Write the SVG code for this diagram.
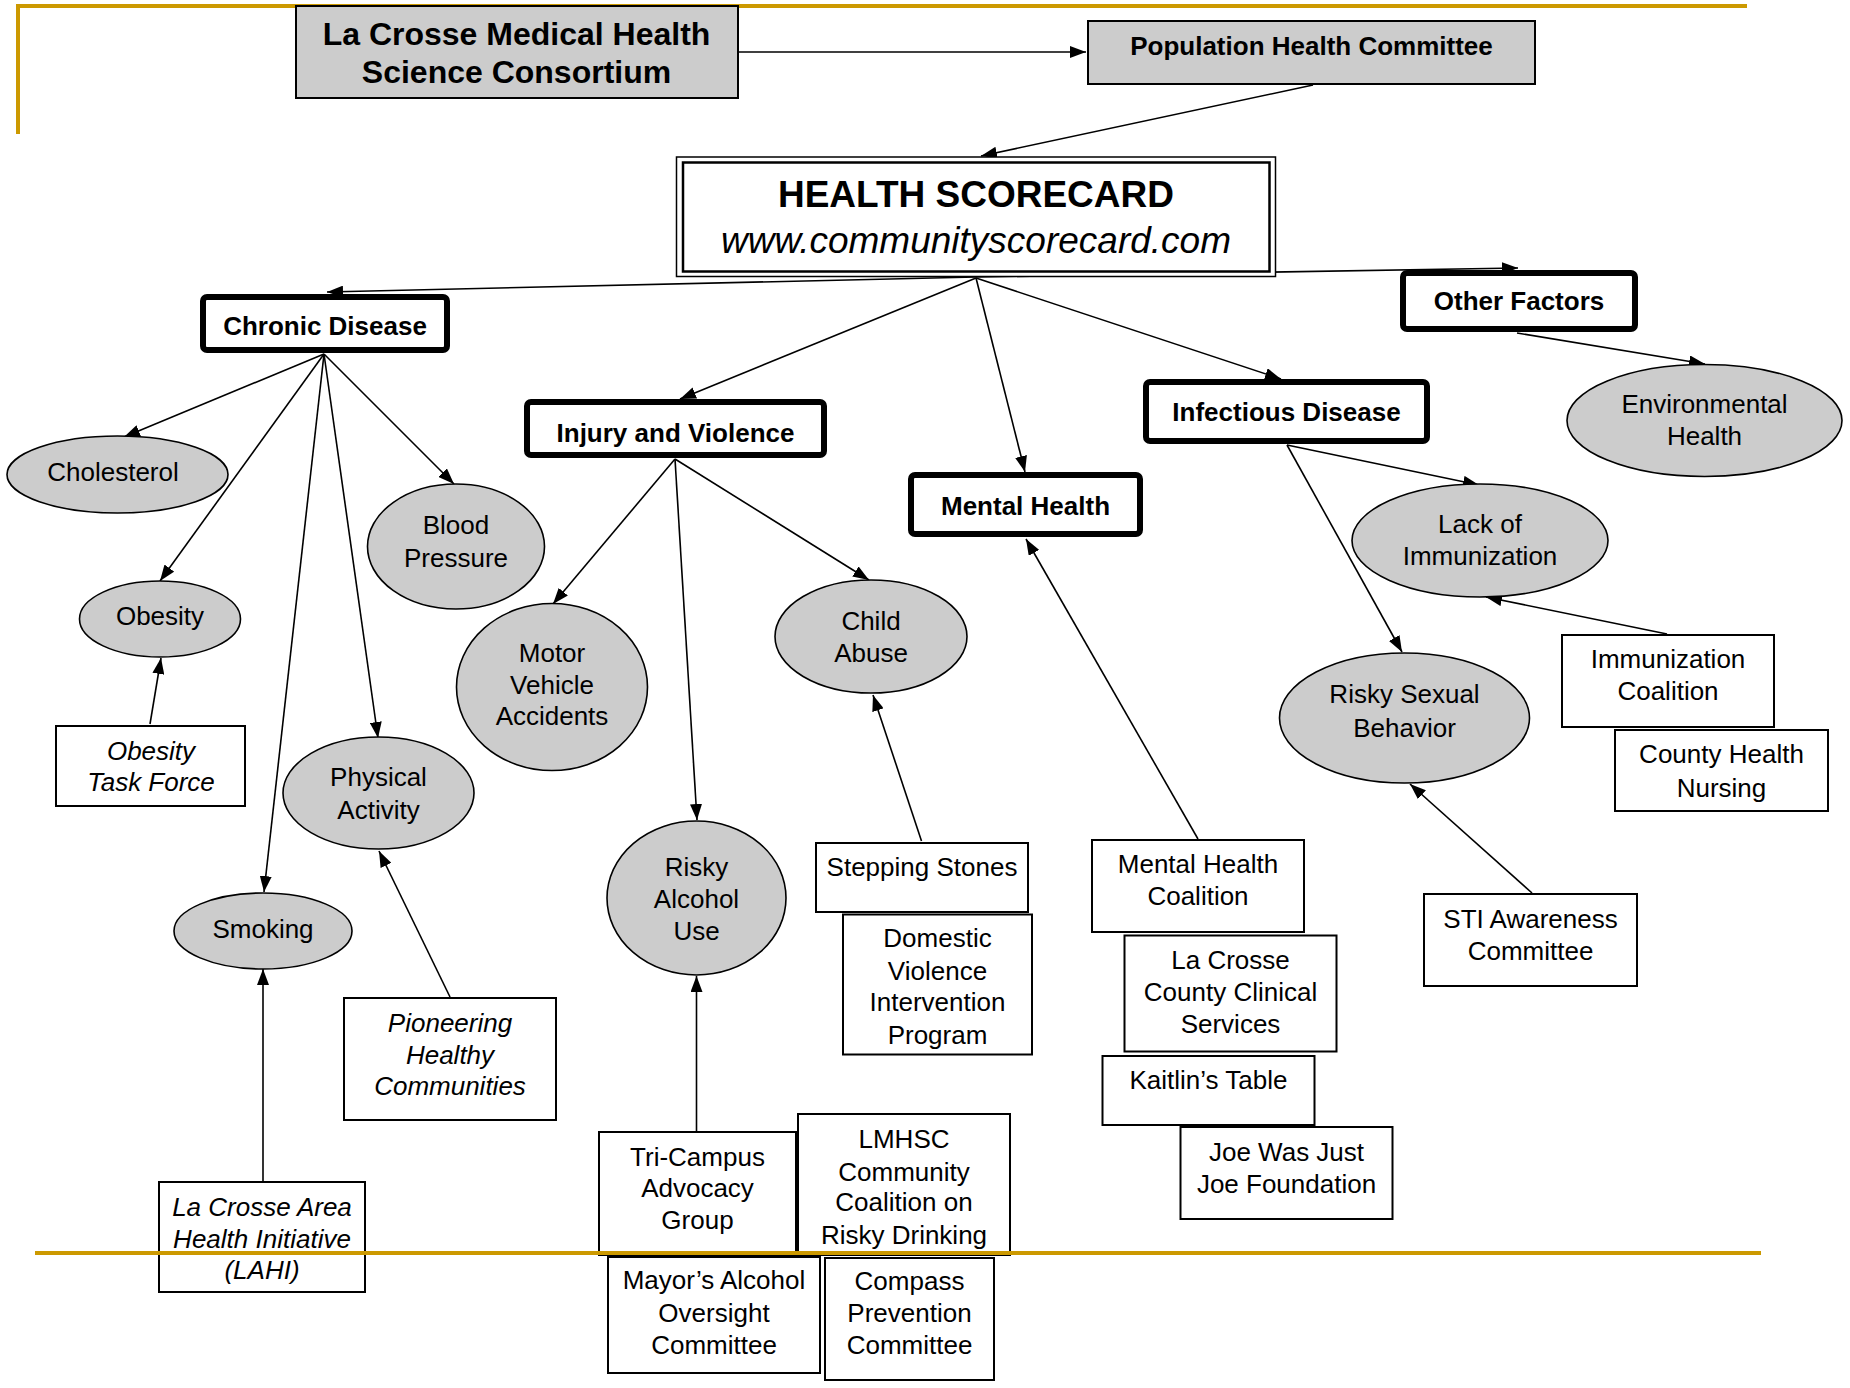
<svg xmlns="http://www.w3.org/2000/svg" width="1850" height="1388" viewBox="0 0 1850 1388">
<style>
text{font-family:"Liberation Sans",Arial,sans-serif;font-size:26px;fill:#000;text-anchor:middle}
.b{font-weight:bold}
.i{font-style:italic}
.cat{fill:#fff;stroke:#000;stroke-width:6}
.ell{fill:#cccccc;stroke:#000;stroke-width:1.6}
.box{fill:#fff;stroke:#000;stroke-width:2}
.gray{fill:#cccccc;stroke:#000;stroke-width:2}
.gold{fill:none;stroke:#CC9900;stroke-width:4}
#connectors line{stroke:#000;stroke-width:1.6;marker-end:url(#arr)}
</style>
<defs>
<marker id="arr" viewBox="0 0 16 12" refX="16" refY="6" markerWidth="16" markerHeight="12" orient="auto" markerUnits="userSpaceOnUse">
<path d="M0,0 L16,6 L0,12 z" fill="#000"/>
</marker>
</defs>
<rect width="1850" height="1388" fill="#fff"/>
<path class="gold" d="M18,134 V6 H1747"/>

<g id="connectors">
<line x1="739" y1="52" x2="1086" y2="52"/>
<line x1="1313" y1="85" x2="981" y2="156"/>
<line x1="976" y1="277" x2="327" y2="292"/>
<line x1="976" y1="277" x2="1518" y2="268"/>
<line x1="976" y1="278" x2="680" y2="399"/>
<line x1="976" y1="278" x2="1025" y2="472"/>
<line x1="976" y1="278" x2="1281" y2="379"/>
<line x1="1517" y1="333" x2="1705" y2="364"/>
<line x1="1287" y1="445" x2="1479" y2="485"/>
<line x1="1287" y1="445" x2="1402" y2="652"/>
<line x1="1667" y1="634" x2="1486" y2="597"/>
<line x1="1532" y1="893" x2="1410" y2="784"/>
<line x1="1198" y1="839" x2="1026" y2="539"/>
<line x1="324" y1="354" x2="124" y2="437"/>
<line x1="324" y1="354" x2="160" y2="581"/>
<line x1="324" y1="354" x2="264" y2="892"/>
<line x1="324" y1="354" x2="378" y2="738"/>
<line x1="324" y1="354" x2="454" y2="484"/>
<line x1="150" y1="724" x2="161" y2="658"/>
<line x1="263" y1="1181" x2="263" y2="969"/>
<line x1="450" y1="997" x2="379" y2="851"/>
<line x1="675" y1="459" x2="553" y2="604"/>
<line x1="675" y1="459" x2="697" y2="820"/>
<line x1="675" y1="459" x2="869" y2="580"/>
<line x1="696.5" y1="1131" x2="696.5" y2="976"/>
<line x1="921.5" y1="841" x2="873" y2="695"/>
</g>

<g id="consortium">
<rect class="gray" x="296" y="6" width="442" height="92"/>
<text class="b" x="516.5" y="44.5" style="font-size:32px">La Crosse Medical Health</text>
<text class="b" x="516.5" y="83" style="font-size:32px">Science Consortium</text>
</g>
<g id="population">
<rect class="gray" x="1088" y="21" width="447" height="63"/>
<text class="b" x="1311.5" y="55">Population Health Committee</text>
</g>
<g id="scorecard">
<rect x="676.5" y="157" width="599" height="119.5" fill="#fff" stroke="#000" stroke-width="1.5"/>
<rect x="683" y="162.5" width="586.5" height="109" fill="none" stroke="#000" stroke-width="2.5"/>
<text class="b" x="976" y="207" style="font-size:37px">HEALTH SCORECARD</text>
<text class="i" x="976" y="253" style="font-size:37px">www.communityscorecard.com</text>
</g>

<g id="chronic">
<rect class="cat" x="203" y="297" width="244" height="53" rx="4"/>
<text class="b" x="325" y="335">Chronic Disease</text>
</g>
<g id="injury">
<rect class="cat" x="527" y="402" width="297" height="53" rx="4"/>
<text class="b" x="675.5" y="442">Injury and Violence</text>
</g>
<g id="mental">
<rect class="cat" x="911" y="475" width="229" height="59" rx="4"/>
<text class="b" x="1025.5" y="515">Mental Health</text>
</g>
<g id="infectious">
<rect class="cat" x="1146" y="382" width="281" height="59" rx="4"/>
<text class="b" x="1286.5" y="421">Infectious Disease</text>
</g>
<g id="other">
<rect class="cat" x="1403" y="273" width="232" height="56" rx="4"/>
<text class="b" x="1519" y="310">Other Factors</text>
</g>

<g id="cholesterol">
<ellipse class="ell" cx="117.5" cy="474.5" rx="110.5" ry="38.5"/>
<text x="113" y="481">Cholesterol</text>
</g>
<g id="obesity">
<ellipse class="ell" cx="160" cy="619" rx="80.5" ry="38"/>
<text x="160" y="625">Obesity</text>
</g>
<g id="bloodpressure">
<ellipse class="ell" cx="456" cy="546.5" rx="88.5" ry="62.5"/>
<text x="456" y="534">Blood</text>
<text x="456" y="567">Pressure</text>
</g>
<g id="physical">
<ellipse class="ell" cx="378.5" cy="793" rx="95.5" ry="56"/>
<text x="378.5" y="786">Physical</text>
<text x="378.5" y="819">Activity</text>
</g>
<g id="smoking">
<ellipse class="ell" cx="263" cy="931" rx="89" ry="38"/>
<text x="263" y="937.5">Smoking</text>
</g>
<g id="motor">
<ellipse class="ell" cx="552" cy="687" rx="95.5" ry="83.5"/>
<text x="552" y="662">Motor</text>
<text x="552" y="693.5">Vehicle</text>
<text x="552" y="725">Accidents</text>
</g>
<g id="childabuse">
<ellipse class="ell" cx="871" cy="636.5" rx="96" ry="56.5"/>
<text x="871" y="630">Child</text>
<text x="871" y="662">Abuse</text>
</g>
<g id="alcohol">
<ellipse class="ell" cx="696.5" cy="898" rx="89.5" ry="77"/>
<text x="696.5" y="876">Risky</text>
<text x="696.5" y="907.5">Alcohol</text>
<text x="696.5" y="939.5">Use</text>
</g>
<g id="lackimm">
<ellipse class="ell" cx="1480" cy="540.5" rx="128" ry="56.5"/>
<text x="1480" y="533">Lack of</text>
<text x="1480" y="565">Immunization</text>
</g>
<g id="environmental">
<ellipse class="ell" cx="1704.5" cy="420.5" rx="137.5" ry="56"/>
<text x="1704.5" y="413">Environmental</text>
<text x="1704.5" y="445">Health</text>
</g>
<g id="riskysexual">
<ellipse class="ell" cx="1404.5" cy="718" rx="125" ry="65"/>
<text x="1404.5" y="703">Risky Sexual</text>
<text x="1404.5" y="736.5">Behavior</text>
</g>

<g id="obesitytf">
<rect class="box" x="56" y="726" width="189" height="80"/>
<text class="i" x="151" y="760">Obesity</text>
<text class="i" x="151" y="791">Task Force</text>
</g>
<g id="pioneering">
<rect class="box" x="344" y="998" width="212" height="122"/>
<text class="i" x="450" y="1032">Pioneering</text>
<text class="i" x="450" y="1063.5">Healthy</text>
<text class="i" x="450" y="1095">Communities</text>
</g>
<g id="lahi">
<rect class="box" x="159" y="1182" width="206" height="110"/>
<text class="i" x="262" y="1215.5">La Crosse Area</text>
<text class="i" x="262" y="1248">Health Initiative</text>
<text class="i" x="262" y="1279">(LAHI)</text>
</g>
<g id="tricampus">
<rect class="box" x="599" y="1132" width="197" height="123"/>
<text x="697.5" y="1166">Tri-Campus</text>
<text x="697.5" y="1197">Advocacy</text>
<text x="697.5" y="1229">Group</text>
</g>
<g id="lmhsc">
<rect class="box" x="798" y="1114" width="212" height="141"/>
<text x="904" y="1148">LMHSC</text>
<text x="904" y="1180.5">Community</text>
<text x="904" y="1211">Coalition on</text>
<text x="904" y="1244">Risky Drinking</text>
</g>
<g id="mayors">
<rect class="box" x="608" y="1257" width="212" height="116"/>
<text x="714" y="1289">Mayor’s Alcohol</text>
<text x="714" y="1322">Oversight</text>
<text x="714" y="1354">Committee</text>
</g>
<g id="compass">
<rect class="box" x="825" y="1258" width="169" height="122"/>
<text x="909.5" y="1290">Compass</text>
<text x="909.5" y="1322">Prevention</text>
<text x="909.5" y="1354">Committee</text>
</g>
<g id="stepping">
<rect class="box" x="816" y="843" width="212" height="69"/>
<text x="922" y="876">Stepping Stones</text>
</g>
<g id="dvip">
<rect class="box" x="843" y="914.5" width="189" height="140"/>
<text x="937.5" y="947">Domestic</text>
<text x="937.5" y="979.5">Violence</text>
<text x="937.5" y="1011">Intervention</text>
<text x="937.5" y="1044">Program</text>
</g>
<g id="mhcoalition">
<rect class="box" x="1092" y="840" width="212" height="92"/>
<text x="1198" y="872.5">Mental Health</text>
<text x="1198" y="905">Coalition</text>
</g>
<g id="lcccs">
<rect class="box" x="1124.5" y="935.5" width="212" height="116"/>
<text x="1230.5" y="968.5">La Crosse</text>
<text x="1230.5" y="1000.5">County Clinical</text>
<text x="1230.5" y="1033">Services</text>
</g>
<g id="kaitlin">
<rect class="box" x="1102.5" y="1056" width="212" height="69"/>
<text x="1208.5" y="1089">Kaitlin’s Table</text>
</g>
<g id="joe">
<rect class="box" x="1180.5" y="1127" width="212" height="92"/>
<text x="1286.5" y="1160.5">Joe Was Just</text>
<text x="1286.5" y="1193">Joe Foundation</text>
</g>
<g id="immcoalition">
<rect class="box" x="1562" y="635" width="212" height="92"/>
<text x="1668" y="668">Immunization</text>
<text x="1668" y="700">Coalition</text>
</g>
<g id="countynursing">
<rect class="box" x="1615" y="730" width="213" height="81"/>
<text x="1721.5" y="763">County Health</text>
<text x="1721.5" y="796.5">Nursing</text>
</g>
<g id="sti">
<rect class="box" x="1424" y="894" width="213" height="92"/>
<text x="1530.5" y="928">STI Awareness</text>
<text x="1530.5" y="960">Committee</text>
</g>

<path class="gold" d="M35,1253 H1761"/>
</svg>
